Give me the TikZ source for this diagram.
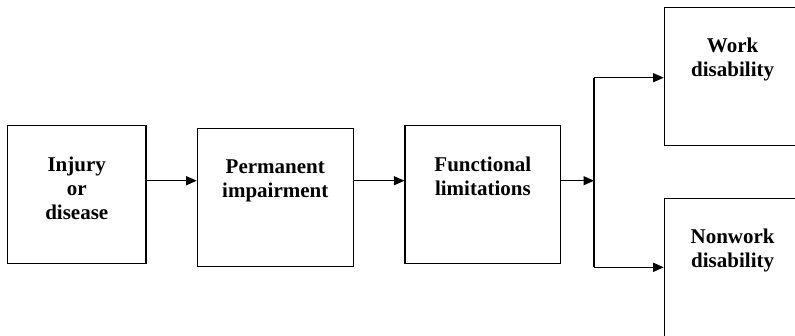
\documentclass[tikz,border=0pt]{standalone}
\usepackage{fontspec}
\setmainfont{Liberation Serif}
\usetikzlibrary{arrows.meta}
\tikzset{
  stage/.style={draw=black, line width=1.2pt, rectangle, inner sep=0pt,
    minimum width=#1, minimum height=138pt},
  caption/.style={anchor=north, inner sep=0pt, align=center,
    font=\fontsize{21}{24}\selectfont\bfseries, yshift=-31pt},
  flow/.style={line width=1.2pt, -{Triangle[length=10.5pt,width=9pt]}},
  wire/.style={line width=1.2pt}
}
\begin{document}
\begin{tikzpicture}[x=1pt, y=-1pt]
  \clip (0,0) rectangle (795,335);
  \fill[white] (0,0) rectangle (795,335);

  % the chain of stages
  \node[stage=138.5pt] (injury)   at (76.75,194.85) {};
  \node[stage=156pt]   (perm)     at (275.3,197.85) {};
  \node[stage=155.7pt] (func)     at (482.85,194.85) {};
  \node[stage=136.7pt] (work)     at (732.65,76.7) {};
  \node[stage=136.7pt] (nonwork)  at (732.65,267.3) {};

  \node[caption] (tInjury)  at (injury.north)  {Injury\\or\\disease};
  \node[caption] (tPerm)    at (perm.north)    {Permanent\\impairment};
  \node[caption] (tFunc)    at (func.north)    {Functional\\limitations};
  \node[caption] (tWork)    at (work.north)    {Work\\disability};
  \node[caption] (tNonwork) at (nonwork.north) {Nonwork\\disability};

  % level of the main flow and the branch point
  \coordinate (lvl)   at (0,180.7);
  \coordinate (split) at (594,180.7);
  \coordinate (upper) at (594,77.7);
  \coordinate (lower) at (594,267.3);

  \draw[flow] (injury.east |- lvl) -- (perm.west |- lvl);
  \draw[flow] (perm.east |- lvl) -- (func.west |- lvl);
  \draw[flow] (func.east |- lvl) -- (split);
  \draw[wire] (upper) -- (lower);
  \draw[flow] (upper) -- (work.west |- upper);
  \draw[flow] (lower) -- (nonwork.west |- lower);
\end{tikzpicture}
\end{document}
